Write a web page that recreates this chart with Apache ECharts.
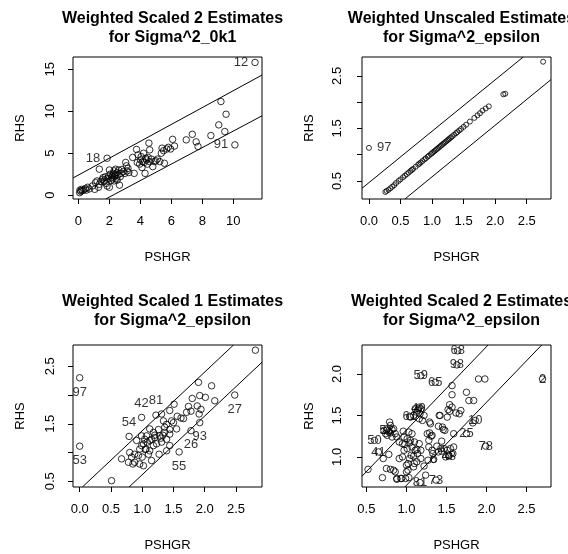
<!DOCTYPE html>
<html><head><meta charset="utf-8">
<script src="https://cdn.jsdelivr.net/npm/echarts@6/dist/echarts.min.js"></script>
<style>html,body{margin:0;padding:0;background:#fff}#c{width:568px;height:554px}</style>
</head><body><div id="c"></div>
<script>
// ---------- Panel 1: Weighted Scaled 2 Estimates for Sigma^2_0k1 ----------
const p1Title = 'Weighted Scaled 2 Estimates\nfor Sigma^2_0k1';
const p1XTicks = [0, 2, 4, 6, 8, 10];
const p1YTicks = [0, 5, 10, 15];
const p1Points = [
  [0.08,0.3],[0.1,0.6],[0.15,0.45],[0.2,0.7],[0.25,0.55],[0.35,0.65],[0.45,0.8],[0.5,0.6],[0.6,0.95],[0.7,0.75],
  [0.9,1.1],[1.05,0.7],[1.1,1.5],[1.2,1.7],[1.3,0.95],[1.35,1.3],[1.45,1.65],[1.55,1.9],[1.6,2.1],[1.7,1.8],
  [1.75,2.2],[1.8,1.4],[1.85,1.1],[1.9,2.0],[1.95,2.3],[2.0,0.95],[2.05,2.5],[2.1,1.75],[2.15,2.1],[2.2,1.95],
  [2.25,2.6],[2.3,2.9],[2.3,1.7],[2.35,2.3],[2.4,3.1],[2.45,2.0],[2.5,2.7],[2.5,1.8],[2.55,2.4],[2.6,3.0],
  [2.65,1.2],[2.7,2.2],[2.75,2.6],[2.8,3.05],[2.9,2.8],[3.0,2.6],[3.05,3.9],[3.1,3.5],[3.15,2.9],[3.2,3.2],
  [3.25,2.7],[1.35,3.1],[2.0,3.0],[2.4,2.5],[2.2,2.3],[1.65,1.6],
  [3.5,4.5],[3.6,2.6],[3.75,5.45],[3.8,3.9],[3.85,4.8],[3.95,3.7],[4.0,4.2],[4.05,4.6],[4.1,3.3],[4.15,4.0],
  [4.2,5.0],[4.25,3.9],[4.3,2.6],[4.35,4.4],[4.4,4.2],[4.45,3.7],[4.5,4.5],[4.55,6.2],[4.6,5.4],[4.6,4.0],
  [4.7,4.3],[4.8,3.4],[4.9,4.0],[5.0,4.1],[5.1,4.3],[5.25,4.0],[5.35,5.0],[5.4,5.6],[5.55,3.8],[5.5,5.3],
  [5.7,5.5],[5.8,5.7],[5.95,5.5],[6.08,6.65],[6.2,5.85],
  [6.96,6.59],[7.35,7.25],[7.6,6.35],[7.72,5.8],[8.55,7.1],[9.06,8.37],[9.2,11.15],[9.45,7.58],[9.53,9.64]
];
const p1Labeled = [[1.85,4.4,'18'],[10.1,5.99,'91'],[11.4,15.8,'12']];
const p1LineUpper = [[-0.35,2.05],[11.85,14.3]];
const p1LineLower = [[1.76,-0.45],[11.85,9.45]];

// ---------- Panel 2: Weighted Unscaled Estimates for Sigma^2_epsilon ----------
const p2Title = 'Weighted Unscaled Estimates\nfor Sigma^2_epsilon';
const p2XTicks = [0, 0.5, 1.0, 1.5, 2.0, 2.5];
const p2YTicks = [0.5, 1.0, 1.5, 2.0, 2.5];
const p2YLabels = [0.5, 1.5, 2.5];
const p2Points = [
  [0.26,0.29],[0.28,0.31],[0.31,0.33],[0.34,0.36],[0.37,0.39],[0.4,0.42],[0.43,0.46],[0.5,0.53],[0.54,0.57],[0.6,0.63],
  [0.63,0.66],[0.66,0.69],[0.7,0.73],[0.74,0.77],[0.78,0.81],[0.82,0.85],[0.85,0.88],[0.88,0.91],[0.9,0.93],[0.93,0.96],
  [0.95,0.98],[0.98,1.01],[1.0,1.03],[1.02,1.05],[1.04,1.07],[1.06,1.09],[1.08,1.11],[1.1,1.13],[1.12,1.15],[1.14,1.17],
  [1.16,1.19],[1.18,1.21],[1.2,1.23],[1.22,1.25],[1.24,1.27],[1.26,1.29],[1.28,1.31],[1.3,1.33],[1.32,1.35],[1.35,1.38],
  [1.38,1.41],[1.4,1.43],[1.43,1.46],[1.46,1.49],[1.5,1.53],[1.54,1.57],[1.6,1.63],[1.67,1.7],[1.72,1.75],[1.76,1.79],
  [1.8,1.84],[1.85,1.88],[1.9,1.92],[2.13,2.15],[2.16,2.16],[2.76,2.77],[0.47,0.5],[0.57,0.6],[0.68,0.71],[0.8,0.83]
];
const p2Labeled = [[0.0,1.13,'97']];
const p2LineUpper = [[-0.11,0.36],[2.445,2.86]];
const p2LineLower = [[0.57,0.156],[2.885,2.43]];

// ---------- Panel 3: Weighted Scaled 1 Estimates for Sigma^2_epsilon ----------
const p3Title = 'Weighted Scaled 1 Estimates\nfor Sigma^2_epsilon';
const p3XTicks = [0, 0.5, 1.0, 1.5, 2.0, 2.5];
const p3YTicks = [0.5, 1.0, 1.5, 2.0, 2.5];
const p3YLabels = [0.5, 1.5, 2.5];
const p3Points = [
  [0.51,0.51],[2.81,2.78],
  [1.90,2.22],[2.11,2.16],[1.92,1.99],[2.01,1.96],[1.80,1.94],[2.16,1.90],[1.51,1.84],[1.74,1.80],[1.88,1.81],[1.94,1.75],
  [1.91,1.67],[1.71,1.70],[1.66,1.59],[1.56,1.63],[1.44,1.73],[1.31,1.67],[1.34,1.55],[1.39,1.49],[1.50,1.52],[1.55,1.41],
  [1.44,1.40],[1.36,1.35],[1.28,1.29],[1.20,1.26],[1.15,1.23],[1.12,1.41],[0.99,1.29],[1.04,1.23],[1.08,1.18],[1.02,1.15],
  [0.96,1.06],[1.06,1.06],[1.12,1.03],[0.80,1.00],[0.83,0.92],[0.67,0.89],[0.78,0.83],[0.88,0.83],[0.96,0.80],[1.02,0.77],
  [1.15,0.86],[1.27,0.97],[1.39,1.03],[1.44,1.12],[1.31,1.18],[1.39,1.23],[1.44,1.32],[1.26,1.40],[1.18,1.35],[0.94,0.95],
  [0.88,0.97],[1.10,0.97],[1.07,1.29],[1.23,1.15],[1.36,1.44],[1.12,1.21],[1.18,1.12],[0.91,1.21],[0.99,1.12],[1.62,1.60],
  [1.78,1.72],[1.47,1.55],[1.33,1.30],[1.05,1.05],[0.85,0.80],[1.00,0.92],[1.20,1.30],[1.30,1.25]
];
const p3Labeled = [[0,2.30,'97'],[0,1.11,'53'],[0.99,1.61,'42'],[1.22,1.65,'81'],[0.79,1.28,'54'],
  [1.59,1.01,'55'],[1.78,1.38,'26'],[1.92,1.52,'93'],[2.48,2.0,'27']];
const p3LineUpper = [[0.043,0.40],[2.46,2.87]];
const p3LineLower = [[0.79,0.40],[2.916,2.57]];

// ---------- Panel 4: Weighted Scaled 2 Estimates for Sigma^2_epsilon ----------
const p4Title = 'Weighted Scaled 2 Estimates\nfor Sigma^2_epsilon';
const p4XTicks = [0.5, 1.0, 1.5, 2.0, 2.5];
const p4YTicks = [1.0, 1.5, 2.0];
const p4Points = [
  [0.52,0.85],[0.70,0.75],[0.71,0.98],[0.75,0.86],[0.78,1.03],[0.80,0.85],[0.84,0.84],[0.86,0.82],[0.88,0.74],[0.93,0.74],
  [0.99,0.74],[1.03,0.75],[1.00,0.90],[1.02,0.84],[1.04,0.98],[0.95,1.00],[0.91,0.98],
  [0.79,1.42],[0.80,1.38],[0.76,1.34],[0.84,1.34],[0.72,1.32],[0.80,1.29],[0.86,1.28],[0.76,1.26],[0.82,1.24],[0.88,1.24],
  [0.91,1.18],[0.95,1.16],[0.97,1.24],[1.01,1.22],[1.03,1.30],[1.07,1.28],[1.05,1.20],[1.10,1.18],[1.07,1.12],[1.11,1.08],
  [1.16,1.16],[1.18,1.08],[1.14,1.04],[1.09,1.01],[1.01,1.10],[0.97,1.08],[0.96,1.31],[0.98,1.15],[1.04,1.17],[1.13,1.09],
  [1.06,1.02],[1.10,0.92],[1.02,0.92],[1.00,0.82],[0.94,0.74],[0.88,0.73],[0.78,1.30],[0.82,1.33],[0.74,1.28],
  [1.11,1.58],[1.16,1.60],[1.18,1.58],[1.13,1.54],[1.17,1.52],[1.05,1.48],[1.09,1.50],[1.16,1.46],[1.22,1.50],[1.20,1.44],[1.14,1.56],
  [1.30,1.40],[1.26,1.28],[1.32,1.26],[1.28,1.20],[1.28,1.12],[1.32,1.08],[1.18,0.98],[1.13,0.94],[1.09,0.88],[1.22,0.89],
  [1.24,0.78],[1.27,0.96],[1.33,1.04],[1.29,1.29],[1.31,1.25],
  [1.41,1.50],[1.45,1.36],[1.48,1.32],[1.51,1.48],[1.54,1.55],[1.57,1.60],[1.57,1.75],[1.57,1.86],[1.66,1.52],[1.68,1.56],
  [1.59,1.28],[1.40,1.37],[1.46,1.33],[1.42,1.50],[1.54,1.63],[1.62,1.53],[1.75,1.78],[1.78,1.68],[1.84,1.68],[1.52,1.57],[1.29,1.42],
  [1.43,1.10],[1.47,1.10],[1.51,1.08],[1.55,1.10],[1.59,1.12],[1.53,1.02],[1.49,1.00],[1.40,1.06],[1.44,1.07],[1.58,1.04],
  [1.38,1.13],[1.44,1.19],[1.90,1.94],[1.98,1.94],[1.83,1.41]
];
const p4Labeled = [[1.64,2.28,'68'],[1.63,2.11,'98'],[1.18,1.98,'59'],[1.36,1.9,'65'],[2.7,1.94,'2'],[1.86,1.44,'10'],
  [1.75,1.28,'25'],[1.99,1.13,'78'],[1.37,0.72,'73'],[1.53,1.01,'48'],[0.65,1.06,'41'],[0.6,1.2,'50'],[1.34,0.97,'6'],
  [1.17,0.69,'81'],[0.75,1.32,'53'],[1.15,1.58,'49'],[1.04,1.49,'61']];
const p4LineUpper = [[0.445,0.767],[2.02,2.35]];
const p4LineLower = [[0.98,0.637],[2.69,2.35]];

// ---------- layout / style ----------
const FONT = "'Liberation Sans', Arial, Helvetica, sans-serif";
const grids = [
  {left:73, top:57, width:189, height:142},
  {left:362, top:57, width:189, height:142},
  {left:73, top:345, width:189, height:142},
  {left:362, top:345, width:189, height:142}
];
const xRanges = [[-0.35,11.85],[-0.11,2.885],[-0.107,2.916],[0.445,2.806]];
const yRanges = [[-0.45,16.45],[0.156,2.86],[0.40,2.87],[0.637,2.35]];
const titles = [p1Title,p2Title,p3Title,p4Title];
const titleTops = [3.5, 3.5, 286.5, 286.5];
const yLabelMargins = [16, 18, 16, 18];
const xTicks = [p1XTicks,p2XTicks,p3XTicks,p4XTicks];
const yTicks = [p1YTicks,p2YTicks,p3YTicks,p4YTicks];
const yLabs = [p1YTicks,p2YLabels,p3YLabels,p4YTicks];
const digits = [0,1,1,1];
const pointSets = [p1Points,p2Points,p3Points,p4Points];
const labeledSets = [p1Labeled,p2Labeled,p3Labeled,p4Labeled];
const lineSets = [[p1LineUpper,p1LineLower],[p2LineUpper,p2LineLower],[p3LineUpper,p3LineLower],[p4LineUpper,p4LineLower]];
const symSizes = [6.5,5,6.5,6.5];
const p3Pos = {'97':'bottom','53':'bottom','55':'bottom','26':'bottom','93':'bottom','27':'bottom','42':'top','81':'top','54':'top'};
const labelStyles = [
  () => ({position:'left', distance:3}),
  () => ({position:'right', distance:5}),
  (t) => ({position:p3Pos[t], distance:4}),
  () => ({position:'inside', distance:0})
];

const circleStyle = {color:'rgba(0,0,0,0)', borderColor:'#000', borderWidth:1};
const txt = {color:'#000', fontFamily:FONT, fontSize:13};

const option = {
  animation:false,
  backgroundColor:'#fff',
  title: titles.map((t,i)=>({
    text:t, left: grids[i].left + grids[i].width/2, top: titleTops[i], textAlign:'center',
    textStyle:{fontFamily:FONT, fontSize:16, fontWeight:'bold', color:'#000', lineHeight:19.5}
  })),
  grid: grids.map(g=>Object.assign({show:true, borderColor:'#000', borderWidth:1, backgroundColor:'transparent', containLabel:false}, g)),
  xAxis: grids.map((g,i)=>({
    gridIndex:i, type:'value', min:xRanges[i][0], max:xRanges[i][1],
    name:'PSHGR', nameLocation:'middle', nameGap:52, nameTextStyle:txt,
    axisLine:{show:false, onZero:false},
    axisTick:{show:true, inside:false, length:5, lineStyle:{color:'#000'}, customValues:xTicks[i]},
    axisLabel:Object.assign({margin:16, customValues:xTicks[i], formatter:v=>Number(v).toFixed(digits[i])}, txt),
    splitLine:{show:false}
  })),
  yAxis: grids.map((g,i)=>({
    gridIndex:i, type:'value', min:yRanges[i][0], max:yRanges[i][1],
    name:'RHS', nameLocation:'middle', nameGap:46, nameTextStyle:txt,
    axisLine:{show:false, onZero:false},
    axisTick:{show:true, inside:false, length:5, lineStyle:{color:'#000'}, customValues:yTicks[i]},
    axisLabel:Object.assign({margin:yLabelMargins[i], rotate:90, customValues:yLabs[i], formatter:v=>Number(v).toFixed(digits[i])}, txt),
    splitLine:{show:false}
  })),
  series: []
};

for (let i=0;i<4;i++){
  option.series.push({
    type:'scatter', xAxisIndex:i, yAxisIndex:i, symbol:'circle', symbolSize:symSizes[i],
    itemStyle:circleStyle, silent:true, emphasis:{disabled:true},
    data: pointSets[i].map(p=>[p[0],p[1]])
  });
  option.series.push({
    type:'scatter', xAxisIndex:i, yAxisIndex:i, symbol:'circle', symbolSize:symSizes[i],
    itemStyle:circleStyle, silent:true, emphasis:{disabled:true},
    data: labeledSets[i].map(p=>({value:[p[0],p[1]], name:p[2],
      label:Object.assign({show:true, formatter:p[2]}, txt, labelStyles[i](p[2]))}))
  });
  lineSets[i].forEach(ln=>{
    option.series.push({
      type:'line', xAxisIndex:i, yAxisIndex:i, symbol:'none', silent:true, clip:true,
      lineStyle:{color:'#000', width:1}, emphasis:{disabled:true},
      data: ln.map(p=>[p[0],p[1]])
    });
  });
}

const chart = echarts.init(document.getElementById('c'), null, {renderer:'canvas'});
chart.setOption(option);
</script>
</body></html>
